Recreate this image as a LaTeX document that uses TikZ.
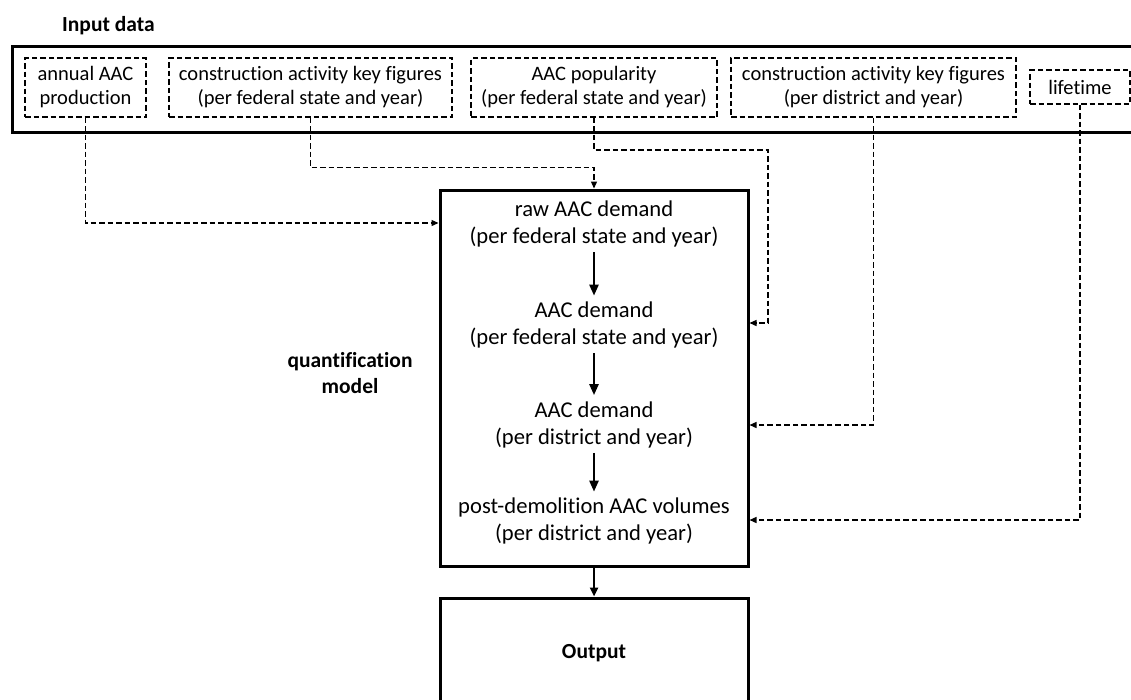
\documentclass[tikz,border=0pt]{standalone}
\usepackage{fontspec}
\setmainfont{Carlito}[Ligatures=NoCommon]
\usetikzlibrary{arrows.meta}
\tikzset{
  dashbox/.style={draw, line width=1.3pt, dash pattern=on 5.5pt off 3pt, inner sep=0pt, align=center, font=\fontsize{20.5}{24}\selectfont},
  bigbox/.style={draw, line width=3pt, inner sep=0pt},
  modeltext/.style={align=center, inner sep=0pt, font=\fontsize{22.6}{27}\selectfont},
  boldlabel/.style={align=center, inner sep=0pt, font=\fontsize{21.5}{26}\selectfont\bfseries},
  dasharrow/.style={line width=1.3pt, dash pattern=on 5.5pt off 3pt, -{Triangle[length=7pt,width=6pt]}},
  solidarrow/.style={line width=2.4pt, -{Triangle[length=11pt,width=9pt]}},
}
\begin{document}
\begin{tikzpicture}[x=1pt,y=-1pt]
\useasboundingbox (0,0) rectangle (1131,699);
\clip (0,0) rectangle (1131,699);
% Input frame
\node[boldlabel, anchor=west] (inlabel) at (62,26) {Input data};
\node[bigbox, minimum width=1140pt, minimum height=86pt, anchor=north west] (inframe) at (11,45) {};
\node[dashbox, minimum width=121pt, minimum height=59pt] (b1) at (85.5,87.5) {annual AAC\\production};
\node[dashbox, minimum width=283pt, minimum height=59pt] (b2) at (310.5,87.5) {construction activity key figures\\(per federal state and year)};
\node[dashbox, minimum width=246pt, minimum height=59pt] (b3) at (594,87.5) {AAC popularity\\(per federal state and year)};
\node[dashbox, minimum width=285pt, minimum height=59pt] (b4) at (873.5,87.5) {construction activity key figures\\(per district and year)};
\node[dashbox, minimum width=100pt, minimum height=34pt] (b5) at (1080,87) {lifetime};
% Model
\node[bigbox, minimum width=308pt, minimum height=376pt] (model) at (594,378) {};
\node[boldlabel] (qlabel) at (350,373) {quantification\\model};
\node[modeltext] (t1) at (594,224) {raw AAC demand\\(per federal state and year)};
\node[modeltext] (t2) at (594,325) {AAC demand\\(per federal state and year)};
\node[modeltext] (t3) at (594,424.5) {AAC demand\\(per district and year)};
\node[modeltext] (t4) at (594,521) {post-demolition AAC volumes\\(per district and year)};
\draw[solidarrow, shorten <=5pt, shorten >=6pt] (t1) -- (t2);
\draw[solidarrow, shorten <=5pt, shorten >=6pt] (t2) -- (t3);
\draw[solidarrow, shorten <=5pt, shorten >=6pt] (t3) -- (t4);
% Output
\node[bigbox, minimum width=308pt, minimum height=110pt] (output) at (594,653) {};
\node[boldlabel] (outlabel) at (594,653) {Output};
\draw[line width=2.4pt, -{Triangle[length=9pt,width=8pt]}] (model) -- (output);
% Connectors
\coordinate (y1) at (0,223);
\coordinate (y3) at (0,323);
\coordinate (y4) at (0,425);
\coordinate (y5) at (0,520);
\coordinate (k3) at (768,150);
\draw[dasharrow] (b1.south) |- (model.west |- y1);
\draw[dasharrow] (b2.south) -- ++(0,50) -| (model.north);
\draw[dasharrow] (b3.south) |- (k3) |- (model.east |- y3);
\draw[dasharrow] (b4.south) |- (model.east |- y4);
\draw[dasharrow] (b5.south) |- (model.east |- y5);
\end{tikzpicture}
\end{document}
